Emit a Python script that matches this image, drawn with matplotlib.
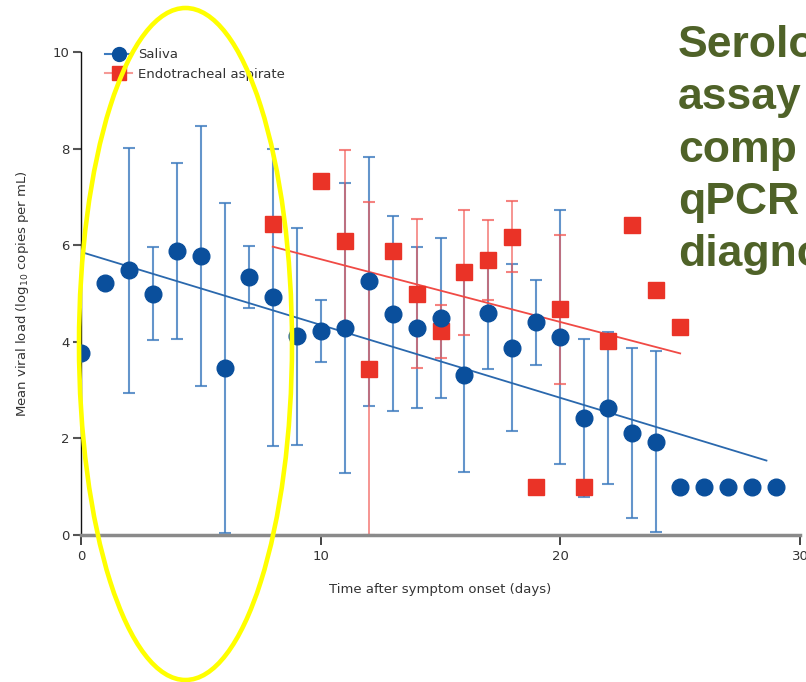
import numpy as np
import matplotlib
matplotlib.use('Agg')
import matplotlib.pyplot as plt
from matplotlib.lines import Line2D
from matplotlib.patches import Ellipse


# data (log10 copies per mL)
saliva_days = list(range(0, 30))
saliva_mean = [3.77, 5.22, 5.48, 5.00, 5.88, 5.77, 3.46, 5.35, 4.92, 4.11,
               4.22, 4.28, 5.25, 4.58, 4.29, 4.49, 3.32, 4.60, 3.88, 4.40,
               4.09, 2.42, 2.63, 2.12, 1.93, 1.00, 1.00, 1.00, 1.00, 1.00]
saliva_err_days = list(range(2, 25))
saliva_sd = [2.54, 0.96, 1.83, 2.69, 3.41, 0.64, 3.07, 2.25, 0.64, 3.00,
             2.57, 2.02, 1.67, 1.66, 2.01, 1.16, 1.73, 0.87, 2.63, 1.63,
             1.58, 1.76, 1.87]

eta_days = [8, 10, 11, 12, 13, 14, 15, 16, 17, 18, 19, 20, 21, 22, 23, 24, 25]
eta_mean = [6.43, 7.32, 6.08, 3.44, 5.87, 5.00, 4.22, 5.44, 5.69, 6.18,
            1.00, 4.67, 1.00, 4.02, 6.41, 5.08, 4.30]
eta_err_days = [11, 12, 14, 15, 16, 17, 18, 20]
eta_sd = [1.89, 3.45, 1.54, 0.55, 1.29, 0.83, 0.74, 1.54]

# linear fits: (start day, end day, intercept at day 0, slope)
saliva_fit = (0, 28.6, 5.86, -0.151)
eta_fit = (8, 25, 7.01, -0.130)

overlay_lines = ['Serolo', 'assay', 'comp', 'qPCR', 'diagno']

x_ticks = [0, 10, 20, 30]
y_ticks = [0, 2, 4, 6, 8, 10]

blue_dot = '#0a4f9c'
blue_bar = '#3d7bbf'
red_sq = '#ea3327'
red_bar = '#f25a55'

plt.rcParams['font.family'] = ['DejaVu Sans']

fig = plt.figure(figsize=(8.06, 6.82), dpi=100)
ax = fig.add_axes([81 / 806, 147 / 682, 719 / 806, 483 / 682])


def err_lookup(days, means, err_days):
    return [means[days.index(d)] for d in err_days]


# error bars
ax.errorbar(saliva_err_days, err_lookup(saliva_days, saliva_mean, saliva_err_days),
            yerr=saliva_sd, fmt='none', ecolor=blue_bar, elinewidth=1.5,
            capsize=4.3, capthick=1.5, alpha=0.8, zorder=2)
ax.errorbar(eta_err_days, err_lookup(eta_days, eta_mean, eta_err_days),
            yerr=eta_sd, fmt='none', ecolor=red_bar, elinewidth=1.2,
            capsize=4.3, capthick=1.5, alpha=0.75, zorder=2)

# regression lines
for (x0, x1, b, m), col in [(saliva_fit, '#2a68ad'), (eta_fit, '#f04a45')]:
    xs = np.array([x0, x1])
    ax.plot(xs, b + m * xs, color=col, lw=1.3, zorder=3)

# points
ax.plot(eta_days, eta_mean, linestyle='none', marker='s', ms=11,
        color=red_sq, mec=red_sq, zorder=4)
ax.plot(saliva_days, saliva_mean, linestyle='none', marker='o', ms=12,
        color=blue_dot, mec=blue_dot, zorder=5)

ax.set_xlim(0, 30)
ax.set_ylim(0, 10)
ax.set_xticks(x_ticks)
ax.set_yticks(y_ticks)
ax.tick_params(axis='both', labelsize=9.5, labelcolor='#333333', direction='out')
ax.tick_params(axis='x', length=7, width=1.2, color='#222222', pad=4)
ax.tick_params(axis='y', length=6, width=1.5, color='#555555', pad=2)

for s in ['top', 'right']:
    ax.spines[s].set_visible(False)
ax.spines['left'].set_color('#111111')
ax.spines['left'].set_linewidth(1.0)
ax.spines['bottom'].set_color('#8a8a8a')
ax.spines['bottom'].set_linewidth(2.5)

ax.set_xlabel('Time after symptom onset (days)', fontsize=9.5, color='#333333', labelpad=14)
ax.set_ylabel('Mean viral load (log$_{10}$ copies per mL)', fontsize=9.5,
              color='#333333', labelpad=16)

handles = [
    Line2D([], [], color=blue_bar, lw=1.5, marker='o', ms=10, mfc=blue_dot, mec=blue_dot),
    Line2D([], [], color='#f59a96', lw=1.5, marker='s', ms=10, mfc=red_sq, mec=red_sq),
]
leg = ax.legend(handles, ['Saliva', 'Endotracheal aspirate'], loc='upper left',
                bbox_to_anchor=(0.034, 1.008), frameon=False, fontsize=9.5,
                handlelength=2.0, handletextpad=0.45, labelspacing=0.5,
                borderpad=0, borderaxespad=0)
for t in leg.get_texts():
    t.set_color('#333333')

# slide overlay: heading text and highlight ellipse, in pixel coordinates
over = fig.add_axes([0, 0, 1, 1], facecolor='none')
over.set_xlim(0, 806)
over.set_ylim(682, 0)
over.axis('off')

baselines = [57, 109, 162, 214, 266]
for txt, yb in zip(overlay_lines, baselines):
    over.text(678, yb, txt, fontsize=32, fontweight='bold', color='#4f6228',
              family=['Liberation Sans', 'DejaVu Sans'], va='baseline', ha='left')

over.add_patch(Ellipse((185.5, 344), 213, 672, fill=False, ec='#ffff00', lw=3.3))

fig.savefig('out.png', dpi=100)
